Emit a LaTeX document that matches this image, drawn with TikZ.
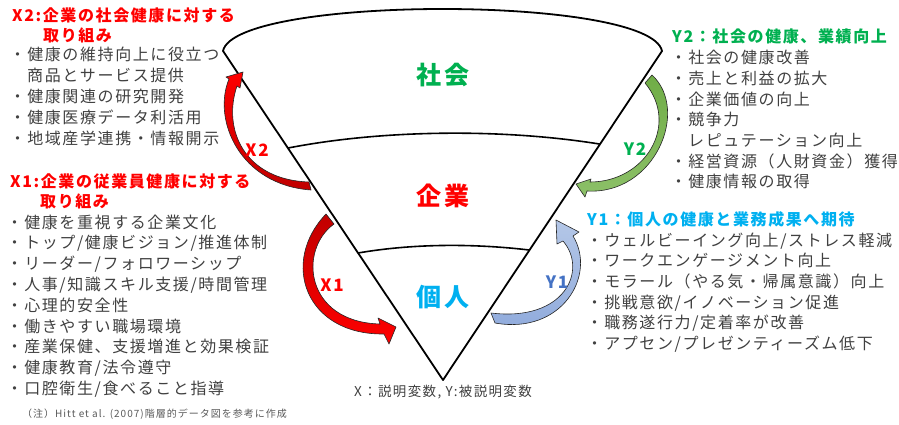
\documentclass[tikz,border=0pt]{standalone}
\usepackage{fontspec}
\setmainfont{Noto Sans CJK JP}[LetterSpace=10]
\usetikzlibrary{calc}
\definecolor{jred}{HTML}{FF0000}
\definecolor{jdark}{HTML}{C00000}
\definecolor{jgreen}{HTML}{00B050}
\definecolor{jcyan}{HTML}{00B0F0}
\definecolor{yblue}{HTML}{4472C4}
\definecolor{txtgray}{HTML}{404040}
\definecolor{notegray}{HTML}{595959}
\definecolor{ylight}{HTML}{B4C7E7}
\definecolor{ydark}{HTML}{8FAADC}
\definecolor{glight}{HTML}{8CC068}
\definecolor{gdark}{HTML}{70AD47}
\tikzset{
  cone/.style={draw=black, line width=1.8pt, line join=round},
  divline/.style={draw=black, line width=1.6pt},
  lbl/.style={inner sep=0pt, font=\fontsize{25}{30}\selectfont\bfseries},
  alabel/.style={inner sep=0pt, font=\fontsize{17}{20}\selectfont\bfseries},
  carrow/.style={draw=black!85, line width=0.6pt, line join=round},
  txt/.style={anchor=base west, inner sep=0pt, text=txtgray, font=\fontsize{16}{19}\selectfont},
  ttl/.style={anchor=base west, inner sep=0pt, font=\fontsize{16}{19}\selectfont\bfseries},
}
\begin{document}
\begin{tikzpicture}[x=1pt,y=-1pt]
\useasboundingbox (0,0) rectangle (899,425);
% cone
\coordinate (tip) at (443,380);
\coordinate (tl) at (223,51);
\coordinate (tr) at (662,51);
\draw[cone] (tip) -- (tl) .. controls (235,-5) and (650,-5) .. (tr) -- cycle;
\coordinate (d1l) at ($(tip)!0.705!(tl)$);
\coordinate (d1r) at ($(tip)!0.717!(tr)$);
\coordinate (d2l) at ($(tip)!0.386!(tl)$);
\coordinate (d2r) at ($(tip)!0.395!(tr)$);
\draw[divline] (d1l) .. controls (380,130) and (500,128) .. (d1r);
\draw[divline] (d2l) .. controls (410,244) and (470,243) .. (d2r);
% level labels
\node[lbl, text=jgreen] (shakai) at (443,75) {社会};
\node[lbl, text=jred] (kigyo) at (443,196) {企業};
\node[lbl, text=jcyan] (kojin) at (443,297) {個人};
% curved arrows
\draw[carrow, top color=jred, bottom color=jdark]
  (309,182) .. controls (245,180) and (222,130) .. (237,86) -- (240,88) -- (243,72) -- (226,77) -- (229,79)
  .. controls (212,120) and (240,185) .. (311,190) -- cycle;
\draw[carrow, top color=jdark, bottom color=jred]
  (326,214) -- (334,224) .. controls (298,250) and (305,322) .. (380,324) -- (378,318) -- (396,327) -- (389,344) -- (384,334)
  .. controls (305,335) and (280,262) .. (326,214) -- cycle;
\draw[carrow, top color=ylight, bottom color=ydark]
  (491,313) -- (495,323) .. controls (562,335) and (597,275) .. (573,236) -- (579,232) -- (556,220) -- (557,244) -- (563,241)
  .. controls (588,270) and (565,322) .. (491,313) -- cycle;
\draw[carrow, top color=gdark, bottom color=glight]
  (645,83) -- (652,75) .. controls (690,110) and (655,195) .. (587,191) -- (585,197) -- (576,184) -- (591,179) -- (590,182)
  .. controls (645,182) and (680,125) .. (645,83) -- cycle;
\node[alabel, text=jred] (lx2) at (257,150) {X2};
\node[alabel, text=jred] (lx1) at (332,285) {X1};
\node[alabel, text=yblue] (ly1) at (557,282) {Y1};
\node[alabel, text=jgreen] (ly2) at (635,149) {Y2};
% left X2 block
\node[ttl, text=jred] (x2t1) at (12,22) {X2:企業の社会健康に対する};
\node[ttl, text=jred] (x2t2) at (43,42) {取り組み};
\node[txt] (x2b1) at (9.5,61) {・健康の維持向上に役立つ};
\node[txt] (x2b1c) at (27,81.75) {商品とサービス提供};
\node[txt] (x2b2) at (9.5,102.5) {・健康関連の研究開発};
\node[txt] (x2b3) at (9.5,123.25) {・健康医療データ利活用};
\node[txt] (x2b4) at (9.5,144) {・地域産学連携・情報開示};
% left X1 block
\node[ttl, text=jred] (x1t1) at (10,187) {X1:企業の従業員健康に対する};
\node[ttl, text=jred] (x1t2) at (40,207) {取り組み};
\node[txt] (x1b1) at (6.5,228) {・健康を重視する企業文化};
\node[txt] (x1b2) at (6.5,248.8) {・トップ/健康ビジョン/推進体制};
\node[txt] (x1b3) at (6.5,269.6) {・リーダー/フォロワーシップ};
\node[txt] (x1b4) at (6.5,290.4) {・人事/知識スキル支援/時間管理};
\node[txt] (x1b5) at (6.5,311.2) {・心理的安全性};
\node[txt] (x1b6) at (6.5,332) {・働きやすい職場環境};
\node[txt] (x1b7) at (6.5,352.8) {・産業保健、支援増進と効果検証};
\node[txt] (x1b8) at (6.5,373.6) {・健康教育/法令遵守};
\node[txt] (x1b9) at (6.5,394.4) {・口腔衛生/食べること指導};
\node[anchor=base west, inner sep=0pt, text=notegray, font=\fontsize{10}{12}\selectfont] (note) at (22,417) {（注）Hitt et al. (2007)階層的データ図を参考に作成};
% right Y2 block
\node[ttl, text=jgreen] (y2t) at (672,42.7) {Y2：社会の健康、業績向上};
\node[txt] (y2b1) at (670.5,63.7) {・社会の健康改善};
\node[txt] (y2b2) at (670.5,84.4) {・売上と利益の拡大};
\node[txt] (y2b3) at (670.5,105.1) {・企業価値の向上};
\node[txt] (y2b4) at (670.5,125.8) {・競争力};
\node[txt] (y2b4c) at (688,146.5) {レピュテーション向上};
\node[txt] (y2b5) at (670.5,167.2) {・経営資源（人財資金）獲得};
\node[txt] (y2b6) at (670.5,187.9) {・健康情報の取得};
% right Y1 block
\node[ttl, text=jcyan] (y1t) at (587,225) {Y1：個人の健康と業務成果へ期待};
\node[txt] (y1b1) at (586.5,246) {・ウェルビーイング向上/ストレス軽減};
\node[txt] (y1b2) at (586.5,266.7) {・ワークエンゲージメント向上};
\node[txt] (y1b3) at (586.5,287.4) {・モラール（やる気・帰属意識）向上};
\node[txt] (y1b4) at (586.5,308.1) {・挑戦意欲/イノベーション促進};
\node[txt] (y1b5) at (586.5,328.8) {・職務遂行力/定着率が改善};
\node[txt] (y1b6) at (586.5,349.5) {・アプセン/プレゼンティーズム低下};
% legend
\node[inner sep=0pt, text=txtgray, font=\fontsize{13.5}{16}\selectfont] (legend) at (443,392) {X：説明変数, Y:被説明変数};
\end{tikzpicture}
\end{document}
